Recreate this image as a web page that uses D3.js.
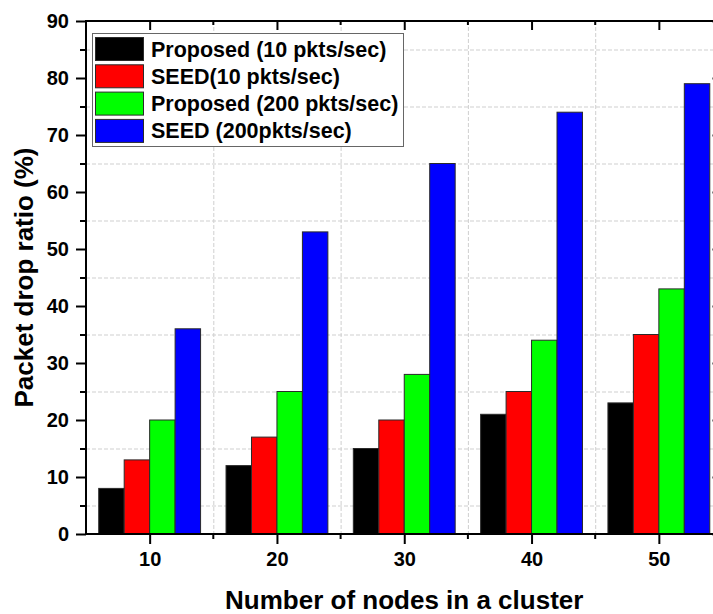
<!DOCTYPE html>
<html>
<head>
<meta charset="utf-8">
<script src="https://cdn.jsdelivr.net/npm/d3@7"></script>
<style>
  body { margin: 0; background: #fff; }
  svg { display: block; font-family: "Liberation Sans", Arial, sans-serif; }
</style>
</head>
<body>
<div id="chart"></div>
<script>
//-- DATA --\\
var categories = ["10", "20", "30", "40", "50"];
var seriesNames = ["Proposed (10 pkts/sec)", "SEED(10 pkts/sec)", "Proposed (200 pkts/sec)", "SEED (200pkts/sec)"];
var seriesColors = ["#000000", "#ff0000", "#00ff00", "#0000ff"];
var proposed10 = [8, 12, 15, 21, 23];
var seed10 = [13, 17, 20, 25, 35];
var proposed200 = [20, 25, 28, 34, 43];
var seed200 = [36, 53, 65, 74, 79];
var yMajorTicks = [0, 10, 20, 30, 40, 50, 60, 70, 80, 90];
var yMinorTicks = [5, 15, 25, 35, 45, 55, 65, 75, 85];

var seriesValues = [proposed10, seed10, proposed200, seed200];

//-- LAYOUT --\\
var width = 713, height = 614;
var plotLeft = 86, plotRight = 722.5, plotTop = 21, plotBottom = 534;
var fontFamily = "'Liberation Sans', Arial, sans-serif";

var svg = d3.select("#chart").append("svg")
    .attr("width", width)
    .attr("height", height);

var x = d3.scaleBand()
    .domain(categories)
    .range([plotLeft, plotRight])
    .paddingInner(0.2)
    .paddingOuter(0.1);

var xInner = d3.scaleBand()
    .domain(d3.range(seriesNames.length))
    .range([0, x.bandwidth()]);

var y = d3.scaleLinear().domain([0, 90]).range([plotBottom, plotTop]);

// positions between groups (minor ticks + vertical grid)
var step = x.step();
var between = categories.slice(0, -1).map(function (c) { return x(c) + x.bandwidth() / 2 + step / 2; });

//-- GRID --\\
var grid = svg.append("g").attr("stroke", "#cfcfcf").attr("stroke-width", 1).attr("stroke-dasharray", "4,2");
yMinorTicks.forEach(function (v) {
    grid.append("line").attr("x1", plotLeft).attr("x2", plotRight).attr("y1", y(v) + 0.5).attr("y2", y(v) + 0.5);
});
between.forEach(function (px) {
    grid.append("line").attr("x1", px + 0.5).attr("x2", px + 0.5).attr("y1", plotTop).attr("y2", plotBottom);
});

//-- BARS --\\
var groups = svg.append("g").selectAll("g")
    .data(categories)
    .enter().append("g")
    .attr("transform", function (c) { return "translate(" + x(c) + ",0)"; });

groups.selectAll("rect")
    .data(function (c, ci) { return seriesValues.map(function (s, si) { return {si: si, v: s[ci]}; }); })
    .enter().append("rect")
    .attr("x", function (d) { return xInner(d.si); })
    .attr("y", function (d) { return y(d.v); })
    .attr("width", xInner.bandwidth())
    .attr("height", function (d) { return plotBottom - y(d.v); })
    .attr("fill", function (d) { return seriesColors[d.si]; })
    .attr("stroke", "#2a2a2a")
    .attr("stroke-width", 1);

//-- AXES --\\
svg.append("g")
    .attr("class", "labeled")
    .attr("transform", "translate(" + plotLeft + ",0)")
    .call(d3.axisLeft(y).tickValues(yMajorTicks).tickSize(10).tickPadding(7).tickFormat(d3.format("d")));
svg.append("g")
    .attr("transform", "translate(" + plotLeft + ",0)")
    .call(d3.axisLeft(y).tickValues(yMinorTicks).tickSize(6).tickFormat(""));

svg.append("g")
    .attr("transform", "translate(" + plotRight + ",0)")
    .call(d3.axisLeft(y).tickValues(yMajorTicks).tickSize(10).tickFormat(""));
svg.append("g")
    .attr("transform", "translate(" + plotRight + ",0)")
    .call(d3.axisLeft(y).tickValues(yMinorTicks).tickSize(5).tickFormat(""));

var centerScale = d3.scalePoint().domain(categories)
    .range([x(categories[0]) + x.bandwidth() / 2, x(categories[categories.length - 1]) + x.bandwidth() / 2]);

svg.append("g")
    .attr("class", "labeled")
    .attr("transform", "translate(0," + plotBottom + ")")
    .call(d3.axisBottom(centerScale).tickSize(10).tickPadding(8));
var xMinor = svg.append("g").attr("transform", "translate(0," + plotBottom + ")");
between.forEach(function (px) {
    xMinor.append("line").attr("x1", px).attr("x2", px).attr("y1", 0).attr("y2", 5).attr("stroke", "#000").attr("stroke-width", 2);
});

svg.append("g")
    .attr("transform", "translate(0," + plotTop + ")")
    .call(d3.axisBottom(centerScale).tickSize(9).tickFormat(""));
var xTopMinor = svg.append("g").attr("transform", "translate(0," + plotTop + ")");
between.forEach(function (px) {
    xTopMinor.append("line").attr("x1", px).attr("x2", px).attr("y1", 0).attr("y2", 4).attr("stroke", "#000").attr("stroke-width", 2);
});

svg.selectAll(".domain").remove();
svg.selectAll(".tick line").attr("stroke", "#000").attr("stroke-width", 2);
svg.selectAll(".labeled").attr("font-size", 20).attr("font-weight", "bold").attr("font-family", fontFamily);
svg.selectAll(".tick text").attr("fill", "#000");

// frame lines
var frame = svg.append("g").attr("stroke", "#000").attr("stroke-width", 2).attr("fill", "none");
frame.append("line").attr("x1", plotLeft).attr("x2", plotRight).attr("y1", plotBottom).attr("y2", plotBottom);
frame.append("line").attr("x1", plotLeft).attr("x2", plotRight).attr("y1", plotTop).attr("y2", plotTop);
frame.append("line").attr("x1", plotLeft).attr("x2", plotLeft).attr("y1", plotTop - 1).attr("y2", plotBottom + 1);
frame.append("line").attr("x1", plotRight).attr("x2", plotRight).attr("y1", plotTop - 1).attr("y2", plotBottom + 1);

//-- TITLES --\\
svg.append("text")
    .attr("x", (plotLeft + plotRight) / 2)
    .attr("y", 609)
    .attr("text-anchor", "middle")
    .attr("font-family", fontFamily).attr("font-weight", "bold").attr("font-size", 26)
    .text("Number of nodes in a cluster");

svg.append("text")
    .attr("transform", "translate(33," + ((plotTop + plotBottom) / 2) + ") rotate(-90)")
    .attr("text-anchor", "middle")
    .attr("font-family", fontFamily).attr("font-weight", "bold").attr("font-size", 26)
    .text("Packet drop ratio (%)");

//-- LEGEND --\\
var legend = svg.append("g");
legend.append("rect")
    .attr("x", 92.5).attr("y", 33.5).attr("width", 311).attr("height", 113)
    .attr("fill", "#fff").attr("stroke", "#666").attr("stroke-width", 1);

var rowH = 27.3;
seriesNames.forEach(function (name, i) {
    var cy = 49 + i * rowH;
    legend.append("rect")
        .attr("x", 95.5).attr("y", cy - 11.5).attr("width", 48).attr("height", 23)
        .attr("fill", seriesColors[i]).attr("stroke", "#2a2a2a").attr("stroke-width", 1);
    legend.append("text")
        .attr("x", 151).attr("y", cy + 7.5)
        .attr("font-family", fontFamily).attr("font-weight", "bold").attr("font-size", 21.5)
        .text(name);
});
</script>
</body>
</html>
